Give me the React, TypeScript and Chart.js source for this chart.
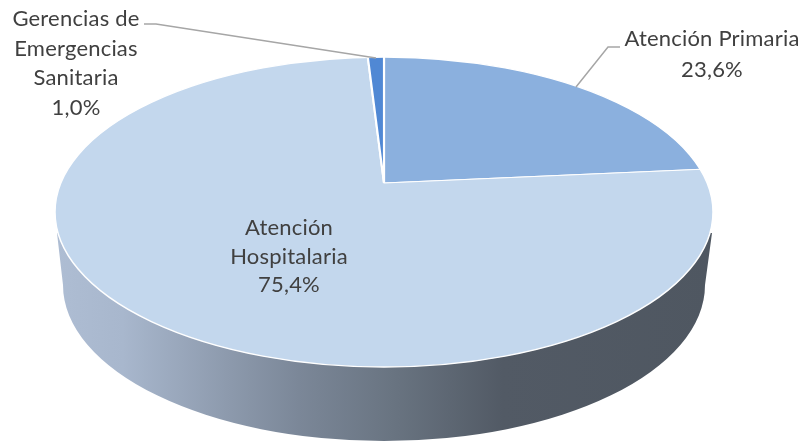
import React, { useEffect, useRef } from "react";
import { Chart, registerables } from "chart.js";

Chart.register(...registerables);

const categories = ["Atención Primaria", "Atención Hospitalaria", "Gerencias de Emergencias Sanitaria"];
const shares = [23.6, 75.4, 1.0];
const sliceColors = ["#8BB0DE", "#C3D7ED", "#5088D4"];
const valueLabels = ["23,6%", "75,4%", "1,0%"];
const labelLines = [["Atención Primaria"], ["Atención", "Hospitalaria"], ["Gerencias de", "Emergencias", "Sanitaria"]];

// geometry of the tilted disc
const APEX = { x: 384, y: 183 };
const TOP = { x: 384, y: 212, rx: 329, ry: 155 };
const BOTTOM = { x: 384, y: 285, rx: 321, ry: 156 };
const SCALE_X = 1.8;
const SCALE_Y = 1.8 * 0.49;

const LABEL_POS = [
  { x: 712, y: 39, lh: 31 },
  { x: 289, y: 228, lh: 28.5 },
  { x: 76, y: 19, lh: 29.5 },
];

const disc3d = {
  id: "disc3d",
  beforeDatasetsDraw(chart: any) {
    const ctx = chart.ctx;
    const el = chart.getDatasetMeta(0).data[0];
    // side wall
    ctx.save();
    const g = ctx.createLinearGradient(57, 0, 712, 0);
    g.addColorStop(0, "#AEBDD3");
    g.addColorStop(0.1, "#A8B7CD");
    g.addColorStop(0.26, "#8D9AAD");
    g.addColorStop(0.37, "#7B8798");
    g.addColorStop(0.52, "#687380");
    g.addColorStop(0.68, "#525A65");
    g.addColorStop(1, "#4F5761");
    ctx.fillStyle = g;
    ctx.beginPath();
    ctx.moveTo(57, 233);
    ctx.lineTo(BOTTOM.x - BOTTOM.rx, BOTTOM.y);
    ctx.ellipse(BOTTOM.x, BOTTOM.y, BOTTOM.rx, BOTTOM.ry, 0, Math.PI, 0, true);
    ctx.lineTo(712, 233);
    ctx.closePath();
    ctx.fill();
    ctx.restore();
    // top face: the library's pie, tilted and clipped to the disc outline
    ctx.save();
    ctx.beginPath();
    ctx.ellipse(TOP.x, TOP.y, TOP.rx, TOP.ry, 0, 0, Math.PI * 2);
    ctx.clip();
    ctx.translate(APEX.x, APEX.y);
    ctx.scale(SCALE_X, SCALE_Y);
    ctx.translate(-el.x, -el.y);
  },
  afterDatasetsDraw(chart: any) {
    const ctx = chart.ctx;
    ctx.restore();
    ctx.save();
    ctx.strokeStyle = "#FFFFFF";
    ctx.lineWidth = 1.5;
    ctx.beginPath();
    ctx.ellipse(TOP.x, TOP.y, TOP.rx, TOP.ry, 0, 0, Math.PI * 2);
    ctx.stroke();
    // leader lines
    ctx.strokeStyle = "#A6A6A6";
    ctx.lineWidth = 1.5;
    ctx.beginPath();
    ctx.moveTo(620, 47);
    ctx.lineTo(608, 47);
    ctx.lineTo(576, 87);
    ctx.moveTo(144, 24);
    ctx.lineTo(156, 24);
    ctx.lineTo(376, 58);
    ctx.stroke();
    // labels
    ctx.fillStyle = "#404040";
    ctx.font = '22px "Lato", sans-serif';
    ctx.letterSpacing = "0.2px";
    ctx.textAlign = "center";
    ctx.textBaseline = "middle";
    labelLines.forEach((lines, i) => {
      const p = LABEL_POS[i];
      [...lines, valueLabels[i]].forEach((t, j) => ctx.fillText(t, p.x, p.y + j * p.lh));
    });
    ctx.restore();
  },
};

export default function App() {
  const ref = useRef<HTMLCanvasElement>(null);
  useEffect(() => {
    const chart = new Chart(ref.current!, {
      type: "pie",
      data: {
        labels: categories,
        datasets: [
          {
            data: shares,
            backgroundColor: sliceColors,
            borderColor: "#FFFFFF",
            borderWidth: 1.2,
          },
        ],
      },
      options: {
        responsive: false,
        animation: false,
        events: [],
        rotation: 0,
        plugins: { legend: { display: false }, tooltip: { enabled: false } },
      },
      plugins: [disc3d],
    });
    return () => chart.destroy();
  }, []);
  return (
    <div style={{ position: "absolute", left: 0, top: 0, width: 800, height: 441, background: "#fff" }}>
      <canvas ref={ref} width={800} height={441} style={{ display: "block" }} />
    </div>
  );
}
